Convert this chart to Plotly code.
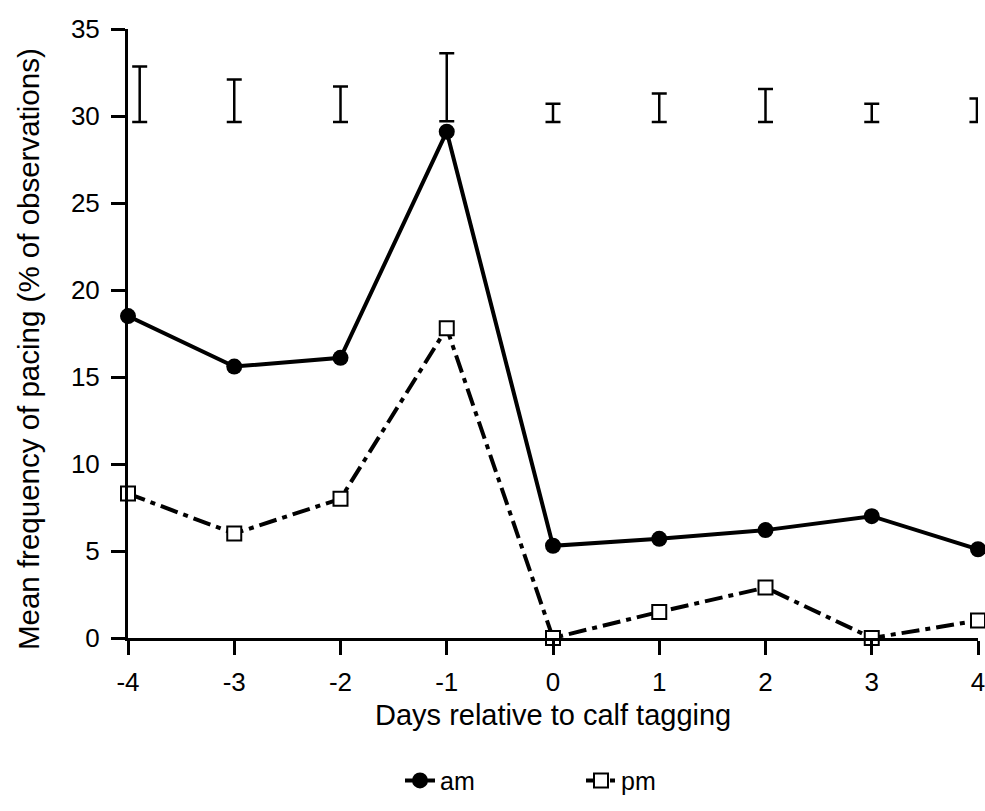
import plotly.graph_objects as go

days = [-4, -3, -2, -1, 0, 1, 2, 3, 4]
am = [18.5, 15.6, 16.1, 29.1, 5.3, 5.7, 6.2, 7.0, 5.1]
pm = [8.3, 6.0, 8.0, 17.8, 0.0, 1.5, 2.9, 0.0, 1.0]

# standalone SE bars drawn near the top of the plot
err_x = [-3.89, -3, -2, -1, 0, 1, 2, 3, 3.99]
err_low = [29.65, 29.65, 29.65, 29.7, 29.65, 29.65, 29.65, 29.65, 29.65]
err_high = [32.85, 32.1, 31.7, 33.6, 30.7, 31.3, 31.55, 30.7, 31.0]

y_ticks = [0, 5, 10, 15, 20, 25, 30, 35]
x_ticks = days
x_ticktext = ["-4", "-3", "-2", "-1", "0", "1", "2", "3", "4"]

x_title = "Days relative to calf tagging"
y_title = "Mean frequency of pacing (% of observations)"

font = "Liberation Sans, Arial, Helvetica, sans-serif"

err_mid = [(a + b) / 2 for a, b in zip(err_low, err_high)]
err_half = [(b - a) / 2 for a, b in zip(err_low, err_high)]

fig = go.Figure()
fig.add_trace(go.Scatter(
    x=err_x, y=err_mid, mode="markers",
    marker=dict(size=1, color="rgba(0,0,0,0)"),
    error_y=dict(type="data", array=err_half, visible=True,
                 color="black", thickness=2.5, width=7.5),
    showlegend=False, cliponaxis=False, hoverinfo="skip"))
fig.add_trace(go.Scatter(
    x=days, y=am, mode="lines+markers", name="am",
    line=dict(color="black", width=4),
    marker=dict(symbol="circle", size=16, color="black"),
    cliponaxis=False))
fig.add_trace(go.Scatter(
    x=days, y=pm, mode="lines+markers", name="pm",
    line=dict(color="black", width=4, dash="18px,6px,5px,6px"),
    marker=dict(symbol="square", size=14, color="white",
                line=dict(color="black", width=2)),
    cliponaxis=False))

fig.update_layout(
    width=985, height=811,
    margin=dict(l=128, r=7, t=29, b=173),
    paper_bgcolor="white", plot_bgcolor="white",
    font=dict(family=font, color="black", size=26),
    showlegend=True,
    legend=dict(orientation="h", x=0.32, xanchor="left",
                y=-0.272, yanchor="bottom",
                font=dict(size=25), entrywidth=136, entrywidthmode="pixels",
                bgcolor="rgba(0,0,0,0)"),
    xaxis=dict(range=[-4, 4], tickvals=x_ticks, ticktext=x_ticktext,
               showgrid=False, zeroline=False, automargin=False,
               showline=True, linecolor="black", linewidth=3,
               ticks="outside", ticklen=14, tickwidth=3, tickcolor="black",
               tickfont=dict(size=26), ticklabelstandoff=5,
               ticklabeloverflow="allow"),
    yaxis=dict(range=[0, 35], tickvals=y_ticks, showgrid=False, zeroline=False,
               automargin=False,
               showline=True, linecolor="black", linewidth=3,
               ticks="outside", ticklen=14, tickwidth=3, tickcolor="black",
               tickfont=dict(size=26), ticklabelstandoff=6,
               ticklabeloverflow="allow"),
    annotations=[
        dict(text=x_title, xref="paper", yref="paper", x=0.5, y=-0.127,
             xanchor="center", yanchor="middle", showarrow=False,
             font=dict(size=29)),
        dict(text=y_title, xref="paper", yref="paper", x=-0.1176, y=0.4745,
             xanchor="center", yanchor="middle", showarrow=False,
             textangle=-90, font=dict(size=29.5)),
    ],
)

fig.write_html("out.html", config={"displayModeBar": False},
               post_script="document.body.style.margin='0';")
